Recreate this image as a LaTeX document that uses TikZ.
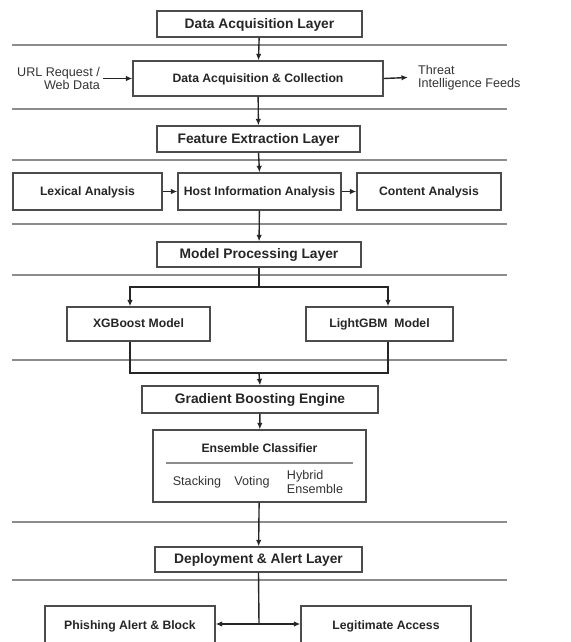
\documentclass[tikz,border=0pt]{standalone}
\usepackage{fontspec}
\setmainfont{Liberation Sans}
\usetikzlibrary{positioning,arrows.meta}

\begin{document}
\begin{tikzpicture}[
  x=1pt,y=-1pt,
  >={Latex[length=6.5pt,width=5.5pt]},
  layer/.style={draw=black!70,line width=1.3pt,fill=white,text depth=0.3ex,font=\fontsize{13.8}{15}\selectfont\bfseries,text=black!85},
  block/.style={draw=black!70,line width=1.3pt,fill=white,text depth=0.3ex,font=\fontsize{12.2}{13}\selectfont\bfseries,text=black!85},
  note/.style={font=\fontsize{12.6}{13.2}\selectfont,text=black!80,inner sep=0pt},
  sep/.style={draw=black!45,line width=1.9pt},
  flow/.style={->,draw=black!85,line width=1.4pt}
]
  \useasboundingbox (0,0) rectangle (570,642);
  \clip (0,0) rectangle (570,642);

  \foreach \y in {45,109,160,224,275,360,522,580}
    \draw[sep] (12,\y) -- (507,\y);

  \node[layer,minimum width=205,minimum height=26] (acqlayer) at (259.5,24) {Data Acquisition Layer};
  \node[block,minimum width=250,minimum height=35] (collect) at (258,78.5) {Data Acquisition \& Collection};
  \node[note,align=right,anchor=east] (url) at (100,78.5) {URL Request /\\Web Data};
  \node[note,align=left,anchor=west] (threat) at (418,77.5) {Threat\\Intelligence Feeds};

  \node[layer,minimum width=203,minimum height=26] (featlayer) at (258.5,139) {Feature Extraction Layer};
  \node[block,minimum width=149,minimum height=37] (lexical) at (87.5,191.5) {Lexical Analysis};
  \node[block,minimum width=163,minimum height=37] (host) at (259.5,191.5) {Host Information Analysis};
  \node[block,minimum width=144,minimum height=37] (content) at (429,191.5) {Content Analysis};

  \node[layer,minimum width=204,minimum height=25] (modellayer) at (259,254.5) {Model Processing Layer};
  \node[block,minimum width=143,minimum height=34] (xgb) at (138.5,324) {XGBoost Model};
  \node[block,minimum width=147,minimum height=34] (lgbm) at (379.5,324) {LightGBM\ \ Model};
  \node[layer,minimum width=236,minimum height=27] (engine) at (260,399.5) {Gradient Boosting Engine};

  \node[draw=black!70,line width=1.3pt,minimum width=213,minimum height=72] (ensemble) at (259.5,466) {};
  \node[block,draw=none] (enstitle) at (259.5,449) {Ensemble Classifier};
  \draw[draw=black!45,line width=1.6pt] (166,463) -- (353,463);
  \node[note] (stacking) at (197,482) {Stacking};
  \node[note] (voting) at (252,482) {Voting};
  \node[note,align=left] (hybrid) at (315,482) {Hybrid\\Ensemble};

  \node[layer,minimum width=207,minimum height=25] (deploy) at (258.5,559.5) {Deployment \& Alert Layer};
  \node[block,minimum width=170,minimum height=40] (phish) at (130,626) {Phishing Alert \& Block};
  \node[block,minimum width=170,minimum height=40] (legit) at (386,626) {Legitimate Access};

  \coordinate (split) at (259,287);
  \coordinate (merge) at (259,373);
  \coordinate (fork) at (259,624);

  \draw[flow] (acqlayer) -- (collect);
  \draw[flow] ([xshift=3]url.east) -- (collect.west);
  \draw[flow] (collect.east) -- ([xshift=-10]threat.west);
  \draw[flow] (collect) -- (featlayer);
  \draw[flow] (featlayer.south) -- (host.north);
  \draw[flow] (lexical) -- (host);
  \draw[flow] (host) -- (content);
  \draw[flow] (host) -- (modellayer);
  \draw[line width=1.4pt,black!85] (modellayer.south) -- (split);
  \draw[flow] (split) -| ([xshift=-8.5]xgb.north);
  \draw[flow] (split) -| ([xshift=8.5]lgbm.north);
  \draw[line width=1.4pt,black!85] ([xshift=-8.5]xgb.south) |- (merge) -| ([xshift=8.5]lgbm.south);
  \draw[flow] (merge) -- (engine.north);
  \draw[flow] (engine) -- (ensemble);
  \draw[flow] (ensemble) -- (deploy);
  \draw[line width=1.4pt,black!85] (deploy.south) -- (fork);
  \draw[flow] (fork) -- (phish.east |- fork);
  \draw[flow] (fork) -- (legit.west |- fork);
\end{tikzpicture}
\end{document}
